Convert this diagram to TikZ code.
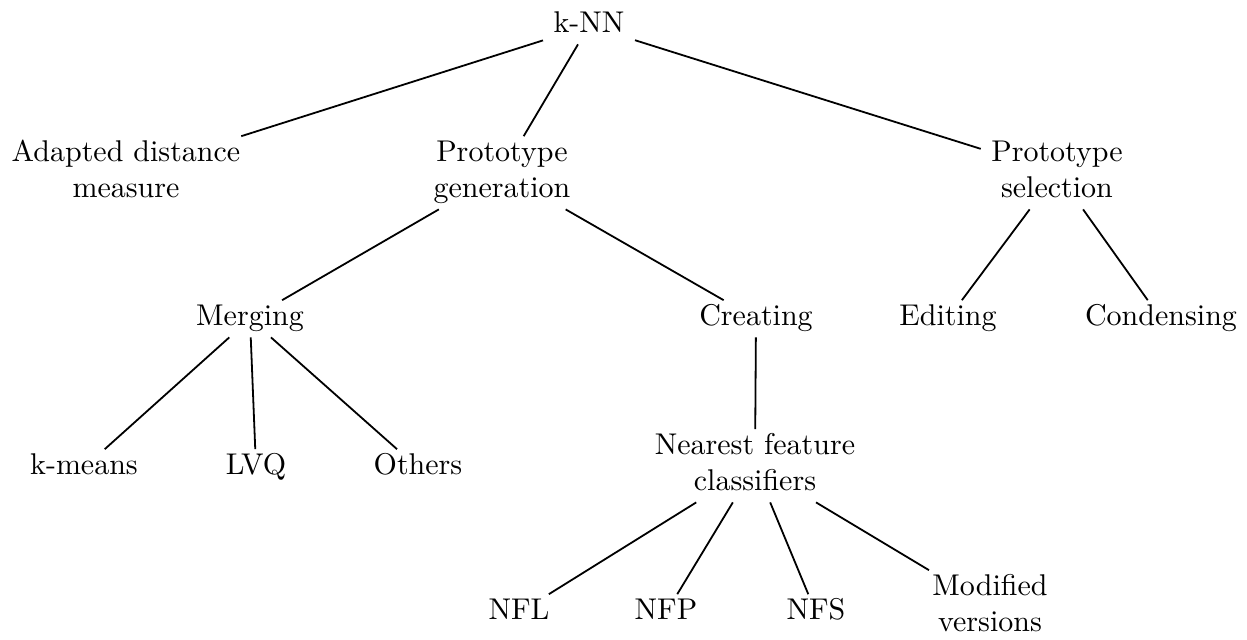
\documentclass[tikz,border=0pt]{standalone}
\begin{document}
\begin{tikzpicture}[x=0.333333pt,y=-0.333333pt,
  tn/.style={align=center, font=\fontsize{10}{12}\selectfont, inner xsep=3.33pt, inner ysep=0pt},
  edge/.style={line width=0.6pt}]
\useasboundingbox (0,0) rectangle (1247,640);
% level 0
\node[tn, anchor=base] (knn) at (589,33) {k-NN\strut};
% level 1
\node[tn] (adm) at (126,172.8) {Adapted distance\strut\\measure\strut};
\node[tn] (pg) at (502,172.8) {Prototype\strut\\generation\strut};
\node[tn] (ps) at (1057,172.8) {Prototype\strut\\selection\strut};
% level 2
\node[tn, anchor=base] (mer) at (250,326) {Merging\strut};
\node[tn, anchor=base] (cre) at (756,326) {Creating\strut};
\node[tn, anchor=base] (edi) at (948,326) {Editing\strut};
\node[tn, anchor=base] (con) at (1161,326) {Condensing\strut};
% level 3
\node[tn, anchor=base] (km) at (84,475) {k-means\strut};
\node[tn, anchor=base] (lvq) at (256,475) {LVQ\strut};
\node[tn, anchor=base] (oth) at (418,475) {Others\strut};
\node[tn] (nfc) at (755,465.8) {Nearest feature\strut\\classifiers\strut};
% level 4
\node[tn, anchor=base] (nfl) at (519,620) {NFL\strut};
\node[tn, anchor=base] (nfp) at (666,620) {NFP\strut};
\node[tn, anchor=base] (nfs) at (816,620) {NFS\strut};
\node[tn] (mod) at (990,606.8) {Modified\strut\\versions\strut};
% edges
\draw[edge] (knn) -- (adm);
\draw[edge] (knn) -- (pg);
\draw[edge] (knn) -- (ps);
\draw[edge] (pg) -- (mer);
\draw[edge] (pg) -- (cre);
\draw[edge] (ps) -- (edi);
\draw[edge] (ps) -- (con);
\draw[edge] (mer) -- (km);
\draw[edge] (mer) -- (lvq);
\draw[edge] (mer) -- (oth);
\draw[edge] (cre) -- (nfc);
\draw[edge] (nfc) -- (nfl);
\draw[edge] (nfc) -- (nfp);
\draw[edge] (nfc) -- (nfs);
\draw[edge] (nfc) -- (mod);
\end{tikzpicture}
\end{document}
